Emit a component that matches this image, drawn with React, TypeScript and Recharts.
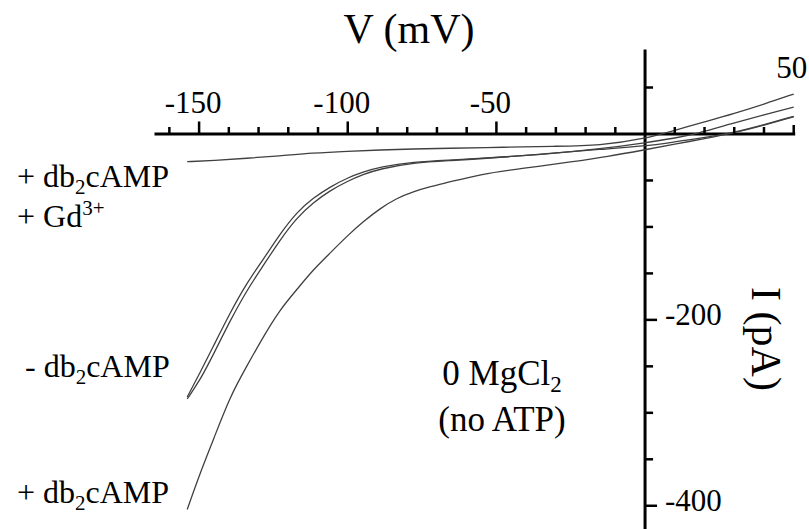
import { LineChart, Line, XAxis, YAxis, ReferenceLine, ReferenceDot } from "recharts";

const SERIF = "'Liberation Serif', 'Times New Roman', serif";
const TRACE = "#404040";

// voltage (mV) / current (pA)
const gdV = [-154, -145, -134, -123, -112, -100, -89, -78, -67, -47, -31, -15, 0, 10, 20, 30, 40, 50];
const gdI = [-29.8, -28.5, -26.1, -23.7, -20.5, -18.5, -17.2, -16.1, -15.4, -14.3, -13.2, -12.5, -5, 4, 13, 22, 32, 43];

const minusV = [-154, -149.7, -145.3, -139.6, -133.9, -128.5, -122.8, -117.1, -111.7, -106, -100.2, -94.9, -89.1, -78, -65.6, -55.5, -32, -15, 0, 10, 17, 30, 40, 50];
const minusI1 = [-283, -257, -229, -192.5, -160, -135.5, -107.5, -84, -69, -57, -47.3, -41, -35.5, -30, -28, -26.3, -21.5, -16, -9.5, -4.5, 0, 12, 20.5, 29];
const minusI2 = [-285, -265, -238, -201, -168, -142, -114, -90, -74, -61, -51, -43.5, -37.5, -31, -28.5, -26.8, -21, -16.5, -13, -8.5, -5.5, 1.5, 10, 19];

const plusV = [-154, -149.7, -145.2, -139.6, -134, -128.4, -122.8, -117.2, -111.6, -106, -100.3, -94.8, -89.1, -83.5, -77.9, -72.3, -65.6, -55.5, -41, -24.2, -12.8, 0, 10, 20, 30, 40, 50];
const plusI = [-404, -365, -329, -282.5, -250, -218, -189, -167.7, -146, -128.3, -110, -94.3, -80, -69, -62, -56.7, -51.6, -43.3, -36.9, -29.8, -24.4, -17, -11, -5, 1, 9.5, 18.5];

// axis ticks
const xMajor = [-150, -100, -50];
const xMinor = [-160, -140, -130, -120, -110, -90, -80, -70, -60, -40, -30, -20, -10, 10, 20, 30, 40];
const xEnd = 50;
const yMajor = [-200, -400];
const yMinor = [50, -50, -100, -150, -250, -300, -350];

const toRows = (vs: number[], is: number[]) => vs.map((v, k) => ({ v, i: is[k] }));

const gdData = toRows(gdV, gdI);
const minusData1 = toRows(minusV, minusI1);
const minusData2 = toRows(minusV, minusI2);
const plusData = toRows(plusV, plusI);

const xTick = (len: number, label?: string, dx = -6, dy = -21) => (p: any) => (
  <g>
    <line x1={p.cx} y1={p.cy} x2={p.cx} y2={p.cy - len} stroke="#000" strokeWidth={2.5} />
    {label && (
      <text x={p.cx + dx} y={p.cy + dy} textAnchor="middle" fontSize={31} fontFamily={SERIF} fill="#000">
        {label}
      </text>
    )}
  </g>
);

const yTick = (len: number, label?: string) => (p: any) => (
  <g>
    <line x1={p.cx} y1={p.cy} x2={p.cx + len} y2={p.cy} stroke="#000" strokeWidth={2.5} />
    {label && (
      <text x={p.cx + 20} y={p.cy + 5} fontSize={31} fontFamily={SERIF} fill="#000">
        {label}
      </text>
    )}
  </g>
);

export default function App() {
  return (
    <div style={{ position: "absolute", left: 0, top: 0, width: 809, height: 529, background: "#fff" }}>
      <LineChart width={809} height={529} margin={{ top: 49.4, right: 13.8, bottom: 0, left: 154.5 }}>
        <XAxis type="number" dataKey="v" domain={[-165, 50.5]} allowDataOverflow hide />
        <YAxis type="number" dataKey="i" domain={[-425, 91]} allowDataOverflow hide />

        <ReferenceLine y={0} stroke="#000" strokeWidth={3} />
        <ReferenceLine x={0} stroke="#000" strokeWidth={3} />

        {xMinor.map((v) => (
          <ReferenceDot key={`xm${v}`} x={v} y={0} shape={xTick(7)} />
        ))}
        {xMajor.map((v) => (
          <ReferenceDot key={`xM${v}`} x={v} y={0} shape={xTick(12.5, String(v))} />
        ))}
        <ReferenceDot x={xEnd} y={0} shape={xTick(9, String(xEnd), -2, -56)} />
        {yMinor.map((v) => (
          <ReferenceDot key={`ym${v}`} x={0} y={v} shape={yTick(8)} />
        ))}
        {yMajor.map((v) => (
          <ReferenceDot key={`yM${v}`} x={0} y={v} shape={yTick(12, String(v))} />
        ))}

        <Line data={gdData} dataKey="i" type="basis" dot={false} stroke={TRACE} strokeWidth={1.3} isAnimationActive={false} />
        <Line data={minusData1} dataKey="i" type="basis" dot={false} stroke={TRACE} strokeWidth={1.3} isAnimationActive={false} />
        <Line data={minusData2} dataKey="i" type="basis" dot={false} stroke={TRACE} strokeWidth={1.3} isAnimationActive={false} />
        <Line data={plusData} dataKey="i" type="basis" dot={false} stroke={TRACE} strokeWidth={1.3} isAnimationActive={false} />

        <g fontFamily={SERIF} fill="#000">
          <text x={409} y={43} fontSize={42} textAnchor="middle">V (mV)</text>
          <text transform="translate(752, 339) rotate(90)" fontSize={42} textAnchor="middle">I (pA)</text>

          <text x={17} y={187} fontSize={32}>
            + db<tspan fontSize={21} dy={7}>2</tspan><tspan dy={-7}>cAMP</tspan>
          </text>
          <text x={17} y={227} fontSize={32}>
            + Gd<tspan fontSize={21} dy={-12}>3+</tspan>
          </text>
          <text x={25} y={377} fontSize={32}>
            - db<tspan fontSize={21} dy={7}>2</tspan><tspan dy={-7}>cAMP</tspan>
          </text>
          <text x={17} y={503} fontSize={32}>
            + db<tspan fontSize={21} dy={7}>2</tspan><tspan dy={-7}>cAMP</tspan>
          </text>

          <text x={502} y={385} fontSize={35} textAnchor="middle">
            0 MgCl<tspan fontSize={23} dy={7}>2</tspan>
          </text>
          <text x={502} y={431} fontSize={35} textAnchor="middle">(no ATP)</text>
        </g>
      </LineChart>
    </div>
  );
}
